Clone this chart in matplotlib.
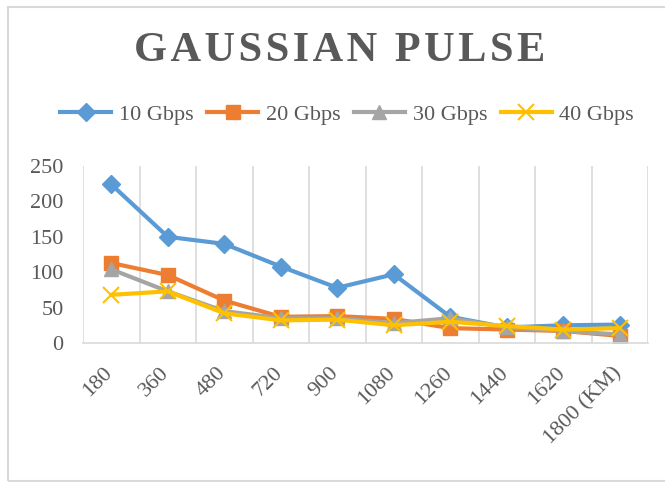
import matplotlib.pyplot as plt
import matplotlib.transforms as mtransforms
from matplotlib.patches import Rectangle

distance = ["180", "360", "480", "720", "900", "1080", "1260", "1440", "1620", "1800 (KM)"]
g10 = [224, 150, 140, 108, 78, 97, 37, 22, 25, 26]
g20 = [113, 96, 60, 37, 38, 34, 21, 19, 17, 10]
g30 = [104, 73, 45, 35, 35, 28, 35, 22, 17, 12]
g40 = [68, 73, 42, 32, 33, 25, 30, 24, 19, 21]

plt.rcParams['font.family'] = ['Liberation Serif', 'DejaVu Serif']

fig = plt.figure(figsize=(6.65, 4.82), dpi=100)
fig.patches.append(Rectangle((8 / 665, 0.002), 1.2, 1 - 8 / 482, transform=fig.transFigure,
                             fill=False, edgecolor="#d9d9d9", linewidth=1.5))
ax = fig.add_axes([83 / 665, 1 - 343 / 482, (648 - 83) / 665, (343 - 166) / 482])

x = range(len(distance))
ax.plot(x, g10, color="#5b9bd5", marker="D", markersize=9, linewidth=3, label="10 Gbps")
ax.plot(x, g20, color="#ed7d31", marker="s", markersize=10, linewidth=3, label="20 Gbps")
ax.plot(x, g30, color="#a5a5a5", marker="^", markersize=10, linewidth=3, label="30 Gbps")
ax.plot(x, g40, color="#ffc000", marker="x", markersize=11, markeredgewidth=1.5,
        linewidth=3, label="40 Gbps")

ax.set_xlim(-0.5, len(distance) - 0.5)
ax.set_ylim(0, 250)
ax.set_yticks(range(0, 251, 50))
ax.set_xticks(list(x))
ax.set_xticklabels(distance, rotation=45, ha="right", rotation_mode="anchor")
ax.set_xticks([i - 0.5 for i in range(len(distance) + 1)], minor=True)
ax.grid(True, which="minor", axis="x", color="#d9d9d9", linewidth=1.2)
ax.tick_params(axis="both", which="both", length=0, labelsize=16, colors="#595959")
ax.tick_params(axis="x", pad=15)
ax.tick_params(axis="y", pad=14)
# nudge the rotated labels left so their ends sit under the points
shift = mtransforms.ScaledTranslation(-8 / 100, 0, fig.dpi_scale_trans)
for lab in ax.get_xticklabels():
    lab.set_transform(lab.get_transform() + shift)
for s in ["top", "right", "left"]:
    ax.spines[s].set_visible(False)
ax.spines["bottom"].set_color("#d9d9d9")
ax.spines["bottom"].set_linewidth(1.2)

title = "\u200a".join("GAUSSIAN PULSE")
fig.text(0.51, 0.895, title, ha="center", va="center",
         fontsize=30.5, fontweight="bold", color="#595959")
fig.legend(loc="center", bbox_to_anchor=(0.522, 0.762), ncol=4, frameon=False,
           fontsize=16, handlelength=2.3, columnspacing=0.6, handletextpad=0.35,
           labelcolor="#595959")

fig.savefig("out.png", dpi=100)
